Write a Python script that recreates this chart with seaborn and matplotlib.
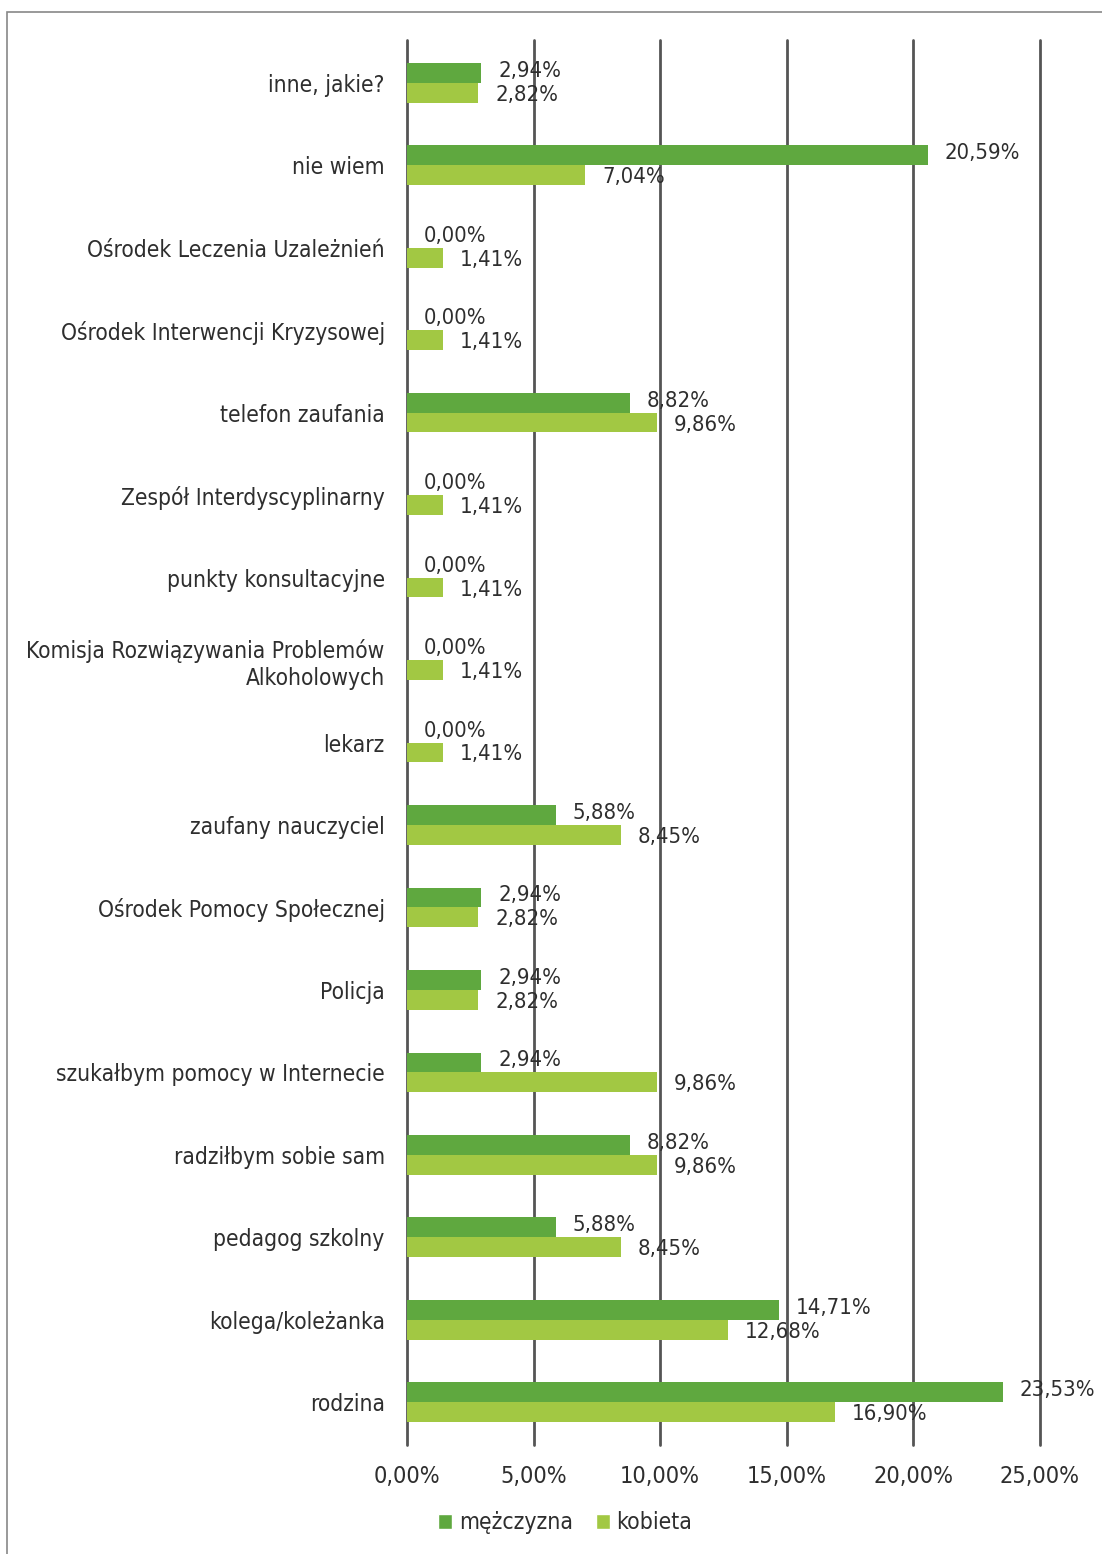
import matplotlib
matplotlib.use("Agg")
import matplotlib.pyplot as plt
import seaborn as sns
import pandas as pd
from matplotlib.ticker import FuncFormatter, MultipleLocator
from matplotlib.patches import Rectangle

categories = [
    "inne, jakie?",
    "nie wiem",
    "Ośrodek Leczenia Uzależnień",
    "Ośrodek Interwencji Kryzysowej",
    "telefon zaufania",
    "Zespół Interdyscyplinarny",
    "punkty konsultacyjne",
    "Komisja Rozwiązywania Problemów\nAlkoholowych",
    "lekarz",
    "zaufany nauczyciel",
    "Ośrodek Pomocy Społecznej",
    "Policja",
    "szukałbym pomocy w Internecie",
    "radziłbym sobie sam",
    "pedagog szkolny",
    "kolega/koleżanka",
    "rodzina",
]
men = [2.94, 20.59, 0.00, 0.00, 8.82, 0.00, 0.00, 0.00, 0.00, 5.88, 2.94, 2.94, 2.94, 8.82, 5.88, 14.71, 23.53]
women = [2.82, 7.04, 1.41, 1.41, 9.86, 1.41, 1.41, 1.41, 1.41, 8.45, 2.82, 2.82, 9.86, 9.86, 8.45, 12.68, 16.90]
series = ["mężczyzna", "kobieta"]
colors = ["#5fa83f", "#a2c843"]

df = pd.DataFrame({
    "kategoria": categories * 2,
    "wartosc": men + women,
    "plec": [series[0]] * len(men) + [series[1]] * len(women),
})

sns.set_theme(style="white")
plt.rcParams["font.family"] = ["DejaVu Sans"]
plt.rcParams["font.stretch"] = "condensed"
text_color = "#2e2e2e"

fig = plt.figure(figsize=(11.02, 15.54), dpi=100)
ax = fig.add_axes([0.3693, 0.0701, 0.5744, 0.9042])

sns.barplot(data=df, y="kategoria", x="wartosc", hue="plec", orient="h",
            palette=colors, width=0.48, gap=0, ax=ax, legend=False,
            order=categories, hue_order=series, saturation=1, linewidth=0)

for cont, vals, dy in zip(ax.containers, [men, women], [1.5, -1.5]):
    anns = ax.bar_label(cont, labels=[f"{v:.2f}%".replace(".", ",") for v in vals],
                        padding=12, fontsize=15.8, color=text_color)
    for a in anns:
        a.xyann = (12, dy)

ax.set_xlim(0, 25)
ax.set_ylim(len(categories) - 0.48, -0.52)
ax.xaxis.set_major_locator(MultipleLocator(5))
ax.xaxis.set_major_formatter(FuncFormatter(lambda v, p: f"{v:.2f}%".replace(".", ",")))
ax.grid(axis="x", color="#555555", linewidth=2)
ax.set_axisbelow(True)
for gl in ax.get_xgridlines():
    gl.set_clip_on(False)
for s in ax.spines.values():
    s.set_visible(False)
ax.tick_params(axis="both", length=0, colors=text_color)
ax.tick_params(axis="y", pad=16, labelsize=16.3)
ax.tick_params(axis="x", pad=14, labelsize=16.8)
ax.set_xlabel("")
ax.set_ylabel("")

handles = [Rectangle((0, 0), 1, 1, facecolor=c) for c in colors]
fig.legend(handles, series, loc="center", bbox_to_anchor=(0.513, 0.02), ncol=2,
           frameon=False, fontsize=16.5, handlelength=0.6, handleheight=0.6,
           handletextpad=0.3, columnspacing=1.0, labelcolor=text_color)

fig.patches.append(Rectangle((0.006, -0.01), 1.2, 1.0023, transform=fig.transFigure,
                             fill=False, edgecolor="#888888", linewidth=1.2))

fig.savefig("out.png", dpi=100)
